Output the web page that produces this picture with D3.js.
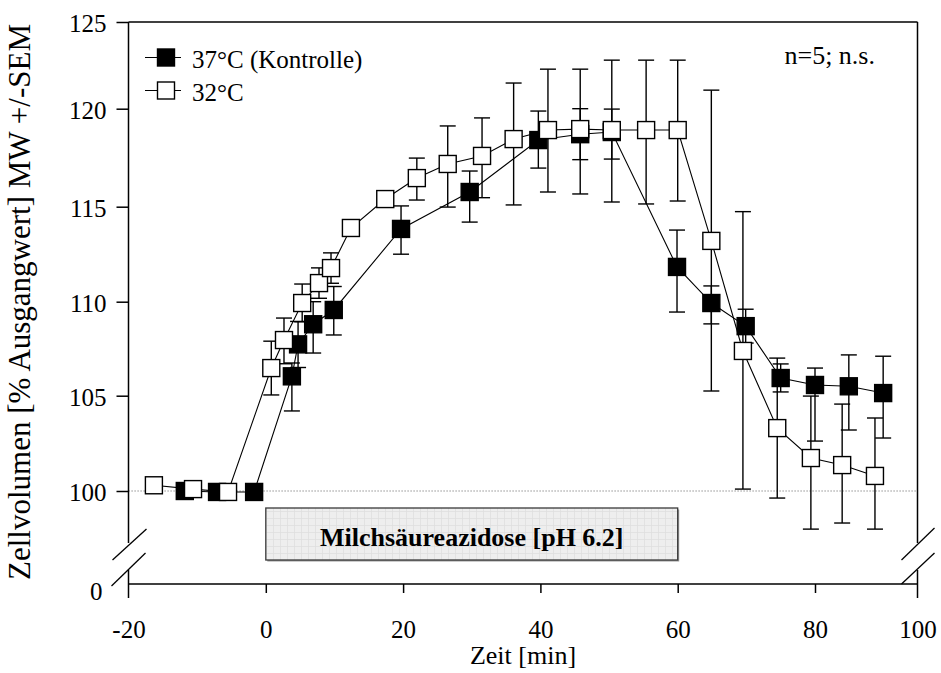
<!DOCTYPE html>
<html><head><meta charset="utf-8">
<script src="https://cdn.jsdelivr.net/npm/d3@7"></script>
<style>
html,body{margin:0;padding:0;background:#fff;}
svg{display:block;font-family:"Liberation Serif","Times New Roman",serif;}
</style></head>
<body>
<svg id="chart" width="941" height="673"></svg>
<script>
// ---- data ----
const xTicks = [-20, 0, 20, 40, 60, 80, 100];
const yTicks = [100, 105, 110, 115, 120, 125];
const seriesNames = ["37°C (Kontrolle)", "32°C"];

// 37°C (Kontrolle): time, mean, lower / upper end of the SEM bar
const timeK = [-11.8, -7.1, -1.7, 3.8, 4.7, 6.9, 9.9, 19.7, 29.7, 39.7, 45.8, 50.4, 59.9, 64.9, 69.9, 75.0, 80.0, 86.6, 93.3];
const meanK = [100.0, 99.95, 99.95, 106.03, 107.73, 108.8, 109.56, 113.83, 115.75, 118.4, 118.7, 118.81, 111.83, 109.93, 108.7, 105.94, 105.57, 105.5, 105.14];
const loK   = [99.95, 99.9, 99.9, 104.2, 106.5, 107.27, 108.23, 112.5, 114.19, 116.97, 117.4, 117.43, 109.45, 108.82, 107.8, 105.2, 102.62, 103.2, 102.78];
const hiK   = [100.05, 100.0, 100.0, 106.74, 108.95, 110.0, 110.8, 115.04, 116.82, 119.88, 120.0, 119.98, 113.77, 110.83, 109.6, 106.69, 106.47, 107.17, 107.1];

// 32°C
const timeW = [-16.3, -10.6, -5.5, 0.8, 2.65, 5.3, 7.75, 9.5, 12.4, 17.4, 22.0, 26.5, 31.5, 36.1, 41.1, 45.8, 50.4, 55.4, 60.0, 64.9, 69.5, 74.5, 79.4, 85.3, 91.7];
const meanW = [100.3, 100.1, 99.95, 106.47, 107.96, 109.93, 110.98, 111.77, 113.88, 115.39, 116.46, 117.18, 117.59, 118.45, 118.91, 118.96, 118.91, 118.91, 118.91, 113.2, 107.38, 103.3, 101.73, 101.36, 100.79];
const loW   = [100.25, 100.05, 99.9, 105.04, 106.7, 108.93, 110.18, 110.97, 113.8, 115.3, 115.34, 114.98, 115.46, 115.09, 115.75, 115.65, 115.24, 115.14, 115.29, 105.25, 100.1, 99.63, 98.0, 98.32, 98.0];
const hiW   = [100.35, 100.15, 100.0, 107.9, 109.13, 110.93, 111.78, 112.57, 113.96, 115.48, 117.48, 119.12, 119.53, 121.48, 122.28, 122.28, 122.8, 122.8, 122.8, 121.07, 114.74, 107.0, 104.98, 104.56, 103.83];

// ---- layout ----
const svg = d3.select("#chart");
const x = d3.scaleLinear().domain([-20, 80, 100]).range([128.5, 815, 917.5]);
const y = d3.scaleLinear().domain([100, 105, 110, 115, 120, 125]).range([491, 395.7, 301.7, 206.7, 108.7, 22]);
const yLow = d3.scaleLinear().domain([0, 1]).range([584, 574]);

const xL = x(-20), xR = x(100), yT = y(125), yB = yLow(0);
const breakTop = 543, breakBot = 570;
const FONT = "Liberation Serif";

// box "Milchsäureazidose"
const defs = svg.append("defs");
const pat = defs.append("pattern").attr("id", "grid").attr("patternUnits", "userSpaceOnUse")
  .attr("width", 7).attr("height", 7);
pat.append("rect").attr("width", 7).attr("height", 7).attr("fill", "#eeeeee");
pat.append("path").attr("d", "M0,0.5H7M0.5,0V7").attr("stroke", "#dedede").attr("stroke-width", 0.8);

svg.append("rect").attr("x", x(0) + 1.5).attr("y", 509.5).attr("width", x(60) - x(0)).attr("height", 52)
  .attr("fill", "#9a9a9a");
svg.append("rect").attr("x", x(0)).attr("y", 508).attr("width", x(60) - x(0)).attr("height", 52)
  .attr("fill", "url(#grid)").attr("stroke", "#3a3a3a").attr("stroke-width", 1.3);
svg.append("text").attr("x", (x(0) + x(60)) / 2).attr("y", 546).attr("text-anchor", "middle")
  .attr("font-size", 26).attr("font-weight", "bold").text("Milchsäureazidose [pH 6.2]");

// dotted baseline at 100
svg.append("line").attr("x1", xL).attr("x2", xR).attr("y1", y(100)).attr("y2", y(100))
  .attr("stroke", "#777").attr("stroke-width", 1).attr("stroke-dasharray", "1.2,1.8");

// frame
const frame = svg.append("g").attr("stroke", "#000").attr("stroke-width", 1.5).attr("fill", "none");
frame.append("line").attr("x1", xL).attr("x2", xR).attr("y1", yT).attr("y2", yT);
frame.append("line").attr("x1", xL).attr("x2", xL).attr("y1", yT).attr("y2", breakTop);
frame.append("line").attr("x1", xR).attr("x2", xR).attr("y1", yT).attr("y2", breakTop);
frame.append("line").attr("x1", xL).attr("x2", xL).attr("y1", breakBot).attr("y2", 598);
frame.append("line").attr("x1", xR).attr("x2", xR).attr("y1", breakBot).attr("y2", 598);
// break marks
[[xL - 16, 560, xL + 18, 529], [xL - 17, 586, xL + 17, 553],
 [xR - 16, 560, xR + 17, 528], [xR - 16, 584, xR + 17, 553]].forEach(d => {
  frame.append("line").attr("x1", d[0]).attr("y1", d[1]).attr("x2", d[2]).attr("y2", d[3]).attr("stroke-width", 1.3);
});

// x axis
const xAxis = d3.axisBottom(x).tickValues(xTicks).tickSize(9).tickPadding(27).tickFormat(d => String(d));
const gx = svg.append("g").attr("transform", `translate(0,${yB})`).call(xAxis);
gx.select(".domain").attr("stroke-width", 1.5).attr("d", `M${xL},0H${xR}`);
gx.selectAll(".tick line").attr("stroke-width", 1.5);
gx.selectAll(".tick").filter(d => d === -20 || d === 100).select("line").remove();
gx.selectAll("text").attr("font-size", 25).attr("font-family", FONT).attr("fill", "#000");

// y axis
const yAxis = d3.axisLeft(y).tickValues(yTicks).tickSize(12).tickPadding(10).tickFormat(d => String(d));
const gy = svg.append("g").attr("transform", `translate(${xL},0)`).call(yAxis);
gy.select(".domain").remove();
gy.selectAll(".tick line").attr("stroke-width", 1.5);
gy.selectAll("text").attr("font-size", 25).attr("font-family", FONT).attr("fill", "#000").attr("dy", "0.38em");
const yAxisLow = d3.axisLeft(yLow).tickValues([0]).tickSize(0).tickPadding(26).tickFormat(d => String(d));
const gyl = svg.append("g").attr("transform", `translate(${xL},0)`).call(yAxisLow);
gyl.select(".domain").remove();
gyl.selectAll("text").attr("font-size", 25).attr("font-family", FONT).attr("fill", "#000").attr("dy", "0.62em");

// axis titles
svg.append("text").attr("x", (xL + xR) / 2).attr("y", 664).attr("text-anchor", "middle")
  .attr("font-size", 26).text("Zeit [min]");
svg.append("text").attr("transform", `translate(30,302) rotate(-90)`).attr("text-anchor", "middle")
  .attr("font-size", 31).text("Zellvolumen [% Ausgangwert] MW +/-SEM");

// annotation
svg.append("text").attr("x", 875).attr("y", 64).attr("text-anchor", "end").attr("font-size", 26).text("n=5; n.s.");

// series
const S = 17, cap = 8;
function drawSeries(t, m, lo, hi, fill) {
  const pts = t.map((d, i) => ({ t: d, m: m[i], lo: lo[i], hi: hi[i] }));
  const g = svg.append("g");
  g.selectAll("line.err").data(pts).join("line").attr("class", "err")
    .attr("x1", d => x(d.t)).attr("x2", d => x(d.t))
    .attr("y1", d => y(d.lo)).attr("y2", d => y(d.hi))
    .attr("stroke", "#000").attr("stroke-width", 1.4);
  ["lo", "hi"].forEach(k => {
    g.selectAll("line.cap" + k).data(pts).join("line").attr("class", "cap" + k)
      .attr("x1", d => x(d.t) - cap).attr("x2", d => x(d.t) + cap)
      .attr("y1", d => y(d[k])).attr("y2", d => y(d[k]))
      .attr("stroke", "#000").attr("stroke-width", 1.4);
  });
  g.append("path").datum(pts).attr("fill", "none").attr("stroke", "#000").attr("stroke-width", 1.1)
    .attr("d", d3.line().x(d => x(d.t)).y(d => y(d.m)));
  g.selectAll("rect").data(pts).join("rect")
    .attr("x", d => x(d.t) - S / 2).attr("y", d => y(d.m) - S / 2).attr("width", S).attr("height", S)
    .attr("fill", fill).attr("stroke", "#000").attr("stroke-width", 1.4);
}
drawSeries(timeK, meanK, loK, hiK, "#000");
drawSeries(timeW, meanW, loW, hiW, "#fff");

// legend
const leg = svg.append("g");
[[57.5, "#000", seriesNames[0]], [90.5, "#fff", seriesNames[1]]].forEach(d => {
  leg.append("line").attr("x1", 145).attr("x2", 181).attr("y1", d[0]).attr("y2", d[0]).attr("stroke", "#000").attr("stroke-width", 1.2);
  leg.append("rect").attr("x", 166 - S / 2).attr("y", d[0] - S / 2).attr("width", S).attr("height", S)
    .attr("fill", d[1]).attr("stroke", "#000").attr("stroke-width", 1.4);
  leg.append("text").attr("x", 192).attr("y", d[0] + 10).attr("font-size", 25).text(d[2]);
});
</script>
</body></html>
